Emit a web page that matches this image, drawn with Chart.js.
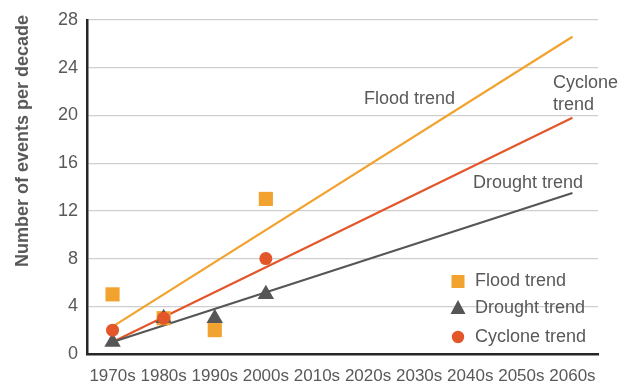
<!DOCTYPE html>
<html>
<head>
<meta charset="utf-8">
<title>Number of events per decade</title>
<script src="https://cdn.jsdelivr.net/npm/chart.js@4.4.1/dist/chart.umd.min.js"></script>
<style>
  html, body { margin: 0; padding: 0; background: #ffffff; }
  #wrap { width: 626px; height: 385px; position: relative; }
</style>
</head>
<body>
<div id="wrap"><canvas id="c" width="626" height="385"></canvas></div>
<script>
// Decades on the horizontal axis
const decades = ['1970s', '1980s', '1990s', '2000s', '2010s', '2020s', '2030s', '2040s', '2050s', '2060s'];

// Observed events per decade
const floodEvents    = [5, 3, 2, 13, null, null, null, null, null, null];
const droughtEvents  = [1, 3, 3, 5, null, null, null, null, null, null];
const cycloneEvents  = [2, 3, null, 8, null, null, null, null, null, null];

// Trend lines: value at 1970s and projected value at 2060s
const floodTrend   = [2.3, null, null, null, null, null, null, null, null, 26.6];
const droughtTrend = [1.0, null, null, null, null, null, null, null, null, 13.5];
const cycloneTrend = [1.0, null, null, null, null, null, null, null, null, 19.8];

const yTicks = [0, 4, 8, 12, 16, 20, 24, 28];

const FONT = "'Liberation Sans', Arial, sans-serif";
const TEXT = '#595959';
const FLOOD = '#F2A22E';
const DROUGHT = '#565656';
const CYCLONE = '#E2562A';

// Free text labels beside the trend lines, plus the in-plot legend and axis title
const decorations = {
  id: 'decorations',
  afterDatasetsDraw(chart) {
    const ctx = chart.ctx;
    ctx.save();
    ctx.fillStyle = TEXT;
    ctx.font = '18px ' + FONT;
    ctx.textBaseline = 'middle';
    ctx.textAlign = 'left';
    ctx.fillText('Flood trend', 364, 99);
    ctx.fillText('Cyclone', 553, 83);
    ctx.fillText('trend', 553, 105);
    ctx.fillText('Drought trend', 473, 183);

    // Legend
    const lx = 458;
    const rows = [
      { y: 281.5, label: 'Flood trend', color: FLOOD, shape: 'square' },
      { y: 308, label: 'Drought trend', color: DROUGHT, shape: 'triangle' },
      { y: 337, label: 'Cyclone trend', color: CYCLONE, shape: 'circle' }
    ];
    rows.forEach(r => {
      ctx.fillStyle = r.color;
      ctx.beginPath();
      if (r.shape === 'square') {
        ctx.rect(lx - 6.5, r.y - 6.5, 13, 13);
      } else if (r.shape === 'triangle') {
        ctx.moveTo(lx, r.y - 8);
        ctx.lineTo(lx + 7.5, r.y + 6);
        ctx.lineTo(lx - 7.5, r.y + 6);
        ctx.closePath();
      } else {
        ctx.arc(lx, r.y, 6.2, 0, Math.PI * 2);
      }
      ctx.fill();
      ctx.fillStyle = TEXT;
      ctx.fillText(r.label, 475, r.y);
    });

    // Vertical axis title
    ctx.translate(28, 141);
    ctx.rotate(-Math.PI / 2);
    ctx.font = 'bold 18px ' + FONT;
    ctx.textAlign = 'center';
    ctx.textBaseline = 'alphabetic';
    ctx.fillText('Number of events per decade', 0, 0);
    ctx.restore();
  }
};

const trendStyle = (data, color, order) => ({
  data,
  borderColor: color,
  backgroundColor: color,
  borderWidth: 2.2,
  pointRadius: 0,
  pointHoverRadius: 0,
  spanGaps: true,
  showLine: true,
  fill: false,
  order
});

const pointStyle = (label, data, color, style, radius, order) => ({
  label,
  data,
  showLine: false,
  pointStyle: style,
  pointRadius: radius,
  pointHoverRadius: radius,
  pointBackgroundColor: color,
  pointBorderColor: color,
  pointBorderWidth: 0,
  borderColor: color,
  backgroundColor: color,
  order
});

new Chart(document.getElementById('c'), {
  type: 'line',
  data: {
    labels: decades,
    datasets: [
      trendStyle(floodTrend, FLOOD, 5),
      trendStyle(cycloneTrend, CYCLONE, 4),
      trendStyle(droughtTrend, DROUGHT, 3),
      pointStyle('Flood trend', floodEvents, FLOOD, 'rect', 10, 2),
      pointStyle('Drought trend', droughtEvents, DROUGHT, 'triangle', 9.5, 1),
      pointStyle('Cyclone trend', cycloneEvents, CYCLONE, 'circle', 6.5, 0)
    ]
  },
  options: {
    responsive: false,
    animation: false,
    events: [],
    layout: { padding: { left: 0, right: 28, top: 20, bottom: 0 } },
    plugins: {
      legend: { display: false },
      tooltip: { enabled: false },
      title: { display: false }
    },
    scales: {
      x: {
        type: 'category',
        offset: true,
        grid: { display: false, drawTicks: false },
        border: { display: true, color: '#262626', width: 2.5 },
        ticks: {
          color: TEXT,
          font: { family: FONT, size: 17 },
          maxRotation: 0,
          minRotation: 0,
          autoSkip: false,
          padding: 12
        },
        afterFit(scale) { scale.height = 31; }
      },
      y: {
        min: 0,
        max: 28,
        afterBuildTicks(scale) { scale.ticks = yTicks.map(v => ({ value: v })); },
        grid: { color: '#cfcfcf', lineWidth: 1.2, drawTicks: false },
        border: { display: true, color: '#262626', width: 2.5 },
        ticks: {
          color: TEXT,
          font: { family: FONT, size: 18 },
          padding: 9
        },
        afterFit(scale) { scale.width = 87; }
      }
    }
  },
  plugins: [decorations]
});
</script>
</body>
</html>
